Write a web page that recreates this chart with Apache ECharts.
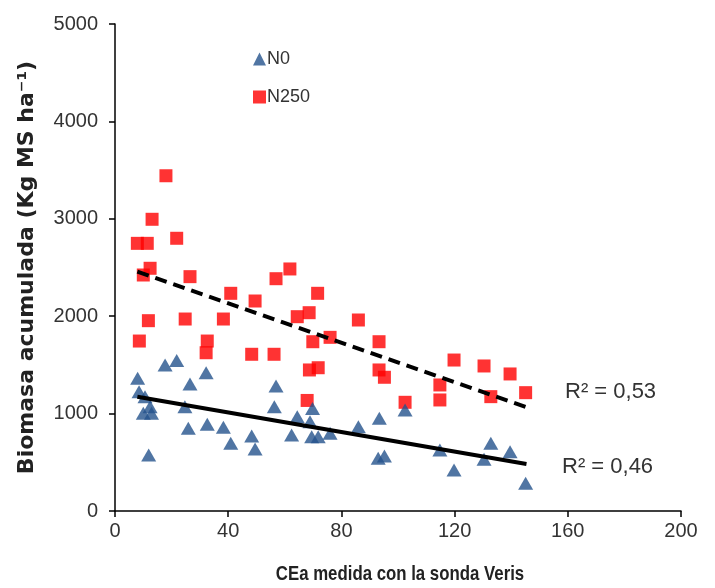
<!DOCTYPE html>
<html>
<head>
<meta charset="utf-8">
<script src="https://cdn.jsdelivr.net/npm/echarts@6/dist/echarts.min.js"></script>
<style>html,body{margin:0;padding:0;background:#fff}#c{width:715px;height:588px}</style>
</head>
<body>
<div id="c"></div>
<script>
var xTicks = [0, 40, 80, 120, 160, 200];
var yTicks = [0, 1000, 2000, 3000, 4000, 5000];
var seriesNames = ['N0', 'N250'];
var n0 = [
  [8.0,1362],[17.7,1499],[21.8,1545],[32.2,1420],[26.5,1304],[8.5,1225],[10.6,1173],
  [12.4,1071],[10.0,1003],[12.9,1003],[24.7,1071],[25.9,850],[32.6,890],[38.3,859],
  [40.9,695],[11.9,575],[48.3,770],[49.5,637],[56.9,1283],[56.3,1071],[62.4,780],
  [64.4,968],[68.9,917],[69.8,1053],[69.5,763],[71.8,763],[76.0,798],[86.0,866],
  [93.4,951],[93.0,541],[95.2,565],[102.5,1037],[114.8,626],[119.8,421],[130.4,531],
  [132.8,695],[139.6,609],[145.1,284]
];
var n250 = [
  [7.9,2748],[11.4,2748],[13.1,2995],[18.0,3442],[21.8,2800],[12.4,2492],[10.0,2423],
  [26.5,2406],[40.9,2235],[11.8,1954],[24.8,1971],[38.3,1971],[8.6,1745],[32.6,1745],
  [32.2,1625],[49.5,2156],[56.9,2385],[61.8,2485],[71.6,2235],[64.4,1995],[68.6,2036],
  [86.0,1961],[69.9,1738],[76.0,1783],[93.3,1738],[48.3,1609],[56.2,1609],[68.7,1448],
  [71.8,1471],[93.3,1448],[95.2,1373],[67.9,1135],[102.5,1116],[119.8,1550],[114.8,1294],
  [114.8,1140],[130.4,1489],[139.6,1407],[132.8,1174],[145.1,1215]
];
var trendN0 = [[7.9,1173],[145.4,483]];
var trendN250 = [[7.9,2457],[145.4,1065]];
var r2Labels = ['R\u00b2 = 0,53', 'R\u00b2 = 0,46'];
var xTitle = 'CEa medida con la sonda Veris';
var yTitle = 'Biomasa acumulada (Kg MS ha\u207b\u00b9)';

var chart = echarts.init(document.getElementById('c'), null, {renderer: 'canvas'});
var font = 'Liberation Sans, Arial, sans-serif';
chart.setOption({
  animation: false,
  backgroundColor: '#fff',
  grid: {left: 115, right: 34, top: 24, bottom: 77},
  legend: {
    orient: 'vertical', left: 248, top: 45, itemGap: 20,
    itemWidth: 13, itemHeight: 13,
    textStyle: {fontFamily: font, fontSize: 18, color: '#333', padding: [0,0,0,-4]},
    data: [{name: seriesNames[0], icon: 'triangle'}, {name: seriesNames[1], icon: 'rect'}]
  },
  xAxis: {
    type: 'value', min: xTicks[0], max: xTicks[xTicks.length-1], interval: 40,
    axisLine: {lineStyle: {color: '#000', width: 1.5}},
    axisTick: {show: true, length: 6, lineStyle: {color: '#000', width: 1.5}},
    axisLabel: {fontFamily: font, fontSize: 20, color: '#333', margin: 10},
    splitLine: {show: false}
  },
  yAxis: {
    type: 'value', min: yTicks[0], max: yTicks[yTicks.length-1], interval: 1000,
    name: yTitle, nameLocation: 'middle', nameGap: 77, nameRotate: 90,
    nameTextStyle: {fontFamily: 'DejaVu Sans, sans-serif', fontSize: 22, fontWeight: 'bold', color: '#222'},
    axisLine: {show: true, lineStyle: {color: '#000', width: 1.5}},
    axisTick: {show: true, length: 6, lineStyle: {color: '#000', width: 1.5}},
    axisLabel: {fontFamily: font, fontSize: 20, color: '#333', margin: 17,
      formatter: function (v) { return String(v); }},
    splitLine: {show: false}
  },
  series: [
    {name: seriesNames[0], type: 'scatter', symbol: 'triangle', symbolSize: [15, 13],
     itemStyle: {color: '#24528C'}, data: n0, z: 3},
    {name: seriesNames[1], type: 'scatter', symbol: 'rect', symbolSize: 13,
     itemStyle: {color: '#FF0000'}, data: n250, z: 2},
    {name: 'trendN0', type: 'line', data: trendN0, showSymbol: false, symbol: 'none',
     lineStyle: {color: '#000', width: 4}, z: 4, silent: true},
    {name: 'trendN250', type: 'line', data: trendN250, showSymbol: false, symbol: 'none',
     lineStyle: {color: '#000', width: 4, type: [12, 7]}, z: 4, silent: true}
  ],
  graphic: [
    {type: 'text', x: 400, y: 574, scaleX: 0.8,
     style: {text: xTitle, font: 'bold 21px Liberation Sans, Arial, sans-serif', fill: '#222', textAlign: 'center', textVerticalAlign: 'middle'}},
    {type: 'text', left: 565, top: 381, style: {text: r2Labels[0], font: '22px Liberation Sans, Arial, sans-serif', fill: '#333'}},
    {type: 'text', left: 562, top: 456, style: {text: r2Labels[1], font: '22px Liberation Sans, Arial, sans-serif', fill: '#333'}}
  ]
});
</script>
</body>
</html>
